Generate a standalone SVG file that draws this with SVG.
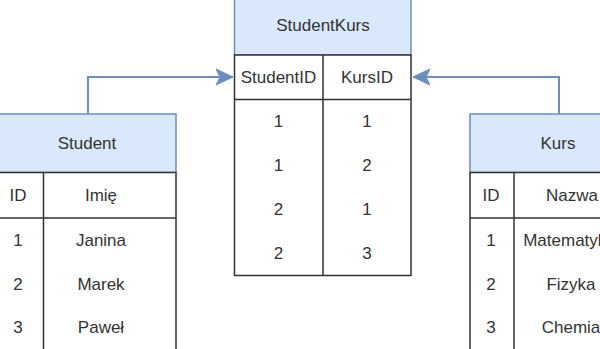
<svg xmlns="http://www.w3.org/2000/svg" width="600" height="349" viewBox="0 0 600 349">
  <style>
    .hdr { fill: #dae8fc; stroke: #6c8ebf; stroke-width: 1.5; }
    .body { fill: #ffffff; stroke: #333333; stroke-width: 1.5; }
    .ln { stroke: #333333; stroke-width: 1.5; fill: none; }
    text { font-family: "Liberation Sans", Arial, sans-serif; font-size: 17px; fill: #333333; text-anchor: middle; dominant-baseline: central; }
    .conn { fill: none; stroke: #6c8ebf; stroke-width: 2; }
  </style>
  <defs>
    <marker id="arr" viewBox="0 0 18 18" refX="17" refY="9" markerWidth="18" markerHeight="18" markerUnits="userSpaceOnUse" orient="auto">
      <path d="M0,1 L17,9 L0,17 L4,9 Z" fill="#6c8ebf" stroke="#6c8ebf" stroke-width="1"/>
    </marker>
  </defs>

  <g id="connectors">
    <path class="conn" d="M88,114 L88,77 L233,77" marker-end="url(#arr)"/>
    <path class="conn" d="M559,114 L559,77 L413,77" marker-end="url(#arr)"/>
  </g>

  <g id="StudentKurs">
    <rect class="hdr" x="234.5" y="-5" width="176.5" height="60"/>
    <rect class="body" x="234.5" y="55" width="176.5" height="220.5"/>
    <line class="ln" x1="234.5" y1="99.5" x2="411" y2="99.5"/>
    <line class="ln" x1="323" y1="55" x2="323" y2="275.5"/>
    <text x="323" y="25">StudentKurs</text>
    <text x="278.5" y="77">StudentID</text>
    <text x="367" y="77">KursID</text>
    <text x="278.5" y="121">1</text>
    <text x="367" y="121">1</text>
    <text x="278.5" y="165">1</text>
    <text x="367" y="165">2</text>
    <text x="278.5" y="209">2</text>
    <text x="367" y="209">1</text>
    <text x="278.5" y="253">2</text>
    <text x="367" y="253">3</text>
  </g>

  <g id="Student">
    <rect class="hdr" x="-10" y="114" width="186" height="58.5"/>
    <rect class="body" x="-10" y="172.5" width="186" height="190"/>
    <line class="ln" x1="-10" y1="218" x2="176" y2="218"/>
    <line class="ln" x1="43.5" y1="172.5" x2="43.5" y2="362"/>
    <text x="87" y="143">Student</text>
    <text x="18" y="195.5">ID</text>
    <text x="101" y="195.5">Imię</text>
    <text x="18" y="240">1</text>
    <text x="101" y="240">Janina</text>
    <text x="18" y="284">2</text>
    <text x="101" y="284">Marek</text>
    <text x="18" y="327">3</text>
    <text x="101" y="327">Paweł</text>
  </g>

  <g id="Kurs">
    <rect class="hdr" x="470" y="114" width="180" height="58.5"/>
    <rect class="body" x="470" y="172.5" width="180" height="190"/>
    <line class="ln" x1="470" y1="218" x2="650" y2="218"/>
    <line class="ln" x1="514" y1="172.5" x2="514" y2="362"/>
    <text x="558" y="143">Kurs</text>
    <text x="491" y="195.5">ID</text>
    <text x="572" y="195.5">Nazwa</text>
    <text x="491" y="240">1</text>
    <text x="569.5" y="240">Matematyka</text>
    <text x="491" y="284">2</text>
    <text x="571" y="284">Fizyka</text>
    <text x="491" y="327">3</text>
    <text x="571" y="327">Chemia</text>
  </g>
</svg>
